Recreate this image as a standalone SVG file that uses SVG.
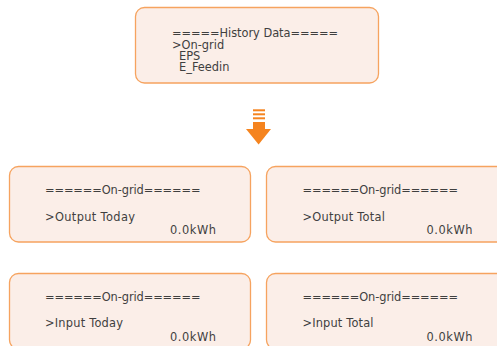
<svg xmlns="http://www.w3.org/2000/svg" width="497" height="346" viewBox="0 0 497 346">
<style>
.box{fill:#FBEEE8;stroke:#F6A35F;stroke-width:1.3}
text{font-family:"DejaVu Sans","Liberation Sans",sans-serif;font-size:11.4px;fill:#3f3f3f}
.r{text-anchor:end}
.arrow{fill:#F5841F}
</style>
<rect width="497" height="346" fill="#ffffff"/>
<g id="history">
<rect class="box" x="135.5" y="7.5" width="243" height="75.5" rx="9"/>
<text x="172" y="37.3" textLength="166">=====History Data=====</text>
<text x="172" y="48.6">&gt;On-grid</text>
<text x="179" y="60">EPS</text>
<text x="179" y="71.2">E_Feedin</text>
</g>
<g id="connectors">
<g class="arrow">
<rect x="253" y="109.3" width="12" height="2"/>
<rect x="253" y="113.3" width="12" height="2"/>
<rect x="253" y="117.3" width="12" height="2"/>
<rect x="253" y="122" width="12" height="7.5"/>
<polygon points="246,129 271,129 258.6,144.5"/>
</g>
</g>
<g id="output-today">
<rect class="box" x="9.5" y="166.5" width="241" height="75.5" rx="9"/>
<text x="45" y="193.8" textLength="155.5">======On-grid======</text>
<text x="45" y="220.5" textLength="90">&gt;Output Today</text>
<text class="r" x="216" y="234" textLength="46">0.0kWh</text>
</g>
<g id="output-total">
<rect class="box" x="266.5" y="166.5" width="241" height="75.5" rx="9"/>
<text x="302.5" y="193.8" textLength="155.5">======On-grid======</text>
<text x="302.5" y="220.5" textLength="82.5">&gt;Output Total</text>
<text class="r" x="472.5" y="234" textLength="46">0.0kWh</text>
</g>
<g id="input-today">
<rect class="box" x="9.5" y="273.5" width="241" height="75.5" rx="9"/>
<text x="45" y="300.6" textLength="155.5">======On-grid======</text>
<text x="45" y="327" textLength="78">&gt;Input Today</text>
<text class="r" x="216" y="340.5" textLength="46">0.0kWh</text>
</g>
<g id="input-total">
<rect class="box" x="266.5" y="273.5" width="241" height="75.5" rx="9"/>
<text x="302.5" y="300.6" textLength="155.5">======On-grid======</text>
<text x="302.5" y="327" textLength="71">&gt;Input Total</text>
<text class="r" x="472.5" y="340.5" textLength="46">0.0kWh</text>
</g>
</svg>
